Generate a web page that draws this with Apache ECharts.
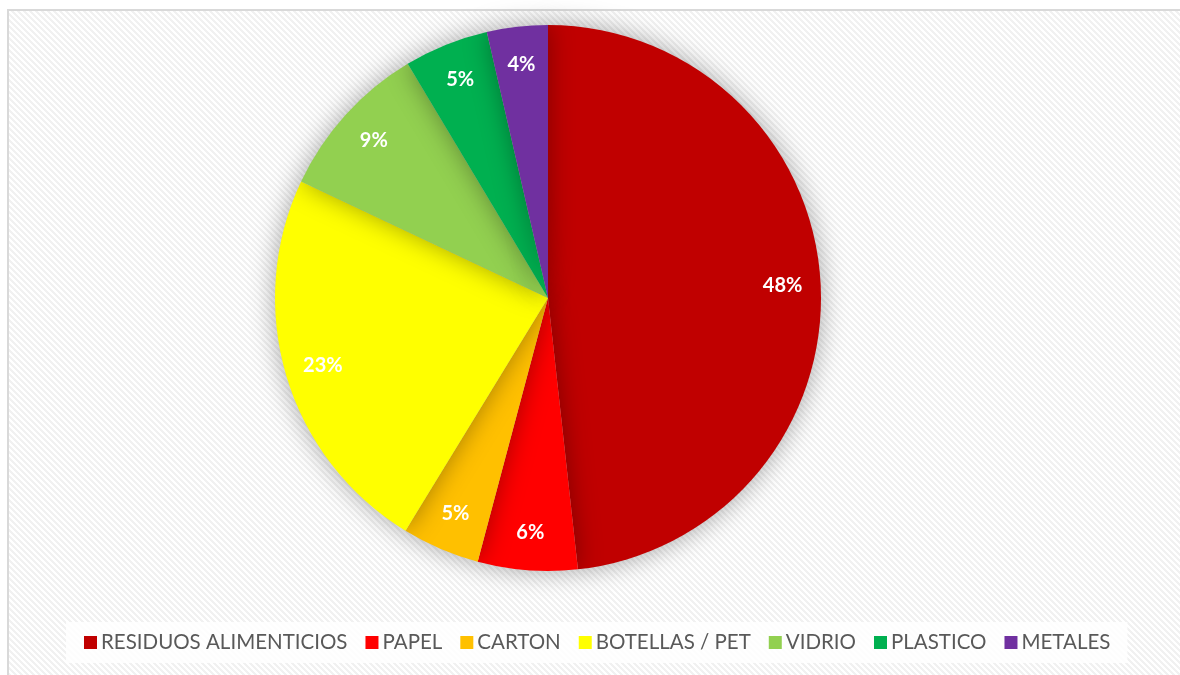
<!DOCTYPE html>
<html>
<head>
<meta charset="utf-8">
<script src="https://cdn.jsdelivr.net/npm/echarts@6/dist/echarts.min.js"></script>
<style>
html,body{margin:0;padding:0;background:#fff;}
#chart{width:1180px;height:675px;}
</style>
</head>
<body>
<div id="chart"></div>
<script>
const categories = ['RESIDUOS ALIMENTICIOS', 'PAPEL', 'CARTON', 'BOTELLAS / PET', 'VIDRIO', 'PLASTICO', 'METALES'];
const values = [48.3, 5.9, 4.6, 23.3, 9.4, 5.0, 3.6];
const palette = ['#C00000', '#FF0000', '#FFC000', '#FFFF00', '#92D050', '#00B050', '#7030A0'];

// diagonal stripe tile
const tile = document.createElement('canvas');
const S = 6;
tile.width = S; tile.height = S;
const tc = tile.getContext('2d');
const img = tc.createImageData(S, S);
for (let y = 0; y < S; y++) {
  for (let x = 0; x < S; x++) {
    const k = ((x - y) % S + S) % S;
    const v = k < 3 ? 241 : 255;
    const i = (y * S + x) * 4;
    img.data[i] = v; img.data[i + 1] = v; img.data[i + 2] = v; img.data[i + 3] = 255;
  }
}
tc.putImageData(img, 0, 0);

const chart = echarts.init(document.getElementById('chart'));
const pieData = categories.map((c, i) => ({ name: c, value: values[i], itemStyle: { color: palette[i] } }));

chart.setOption({
  backgroundColor: '#ffffff',
  animation: false,
  graphic: [{
    type: 'rect',
    z: -10,
    silent: true,
    shape: { x: 8, y: 10, width: 2000, height: 2000 },
    style: { fill: { image: tile, repeat: 'repeat' }, stroke: '#d9d9d9', lineWidth: 2 }
  }],
  legend: {
    data: categories,
    bottom: 12,
    left: 66,
    icon: 'rect',
    itemWidth: 13,
    itemHeight: 13,
    itemGap: 18,
    backgroundColor: 'rgba(255,255,255,0.85)',
    padding: [10, 17, 10, 18],
    textStyle: { fontFamily: 'Lato', fontSize: 20.5, color: '#595959', padding: [0, 0, 0, -1] }
  },
  series: [{
    type: 'pie',
    center: [548, 298],
    radius: [0, 273],
    startAngle: 90,
    clockwise: true,
    label: { show: false },
    labelLine: { show: false },
    emphasis: { disabled: true },
    itemStyle: { shadowBlur: 26, shadowColor: 'rgba(0,0,0,0.35)' },
    data: pieData
  }, {
    type: 'pie',
    center: [548, 298],
    radius: [191, 273],
    startAngle: 90,
    clockwise: true,
    silent: true,
    emphasis: { disabled: true },
    itemStyle: { color: 'rgba(0,0,0,0)' },
    label: {
      show: true,
      position: 'inside',
      fontFamily: 'Lato',
      fontWeight: 'bold',
      fontSize: 20,
      color: '#ffffff',
      formatter: p => Math.round(p.percent) + '%'
    },
    labelLine: { show: false },
    data: categories.map((c, i) => ({ name: c, value: values[i] }))
  }]
});
</script>
</body>
</html>
